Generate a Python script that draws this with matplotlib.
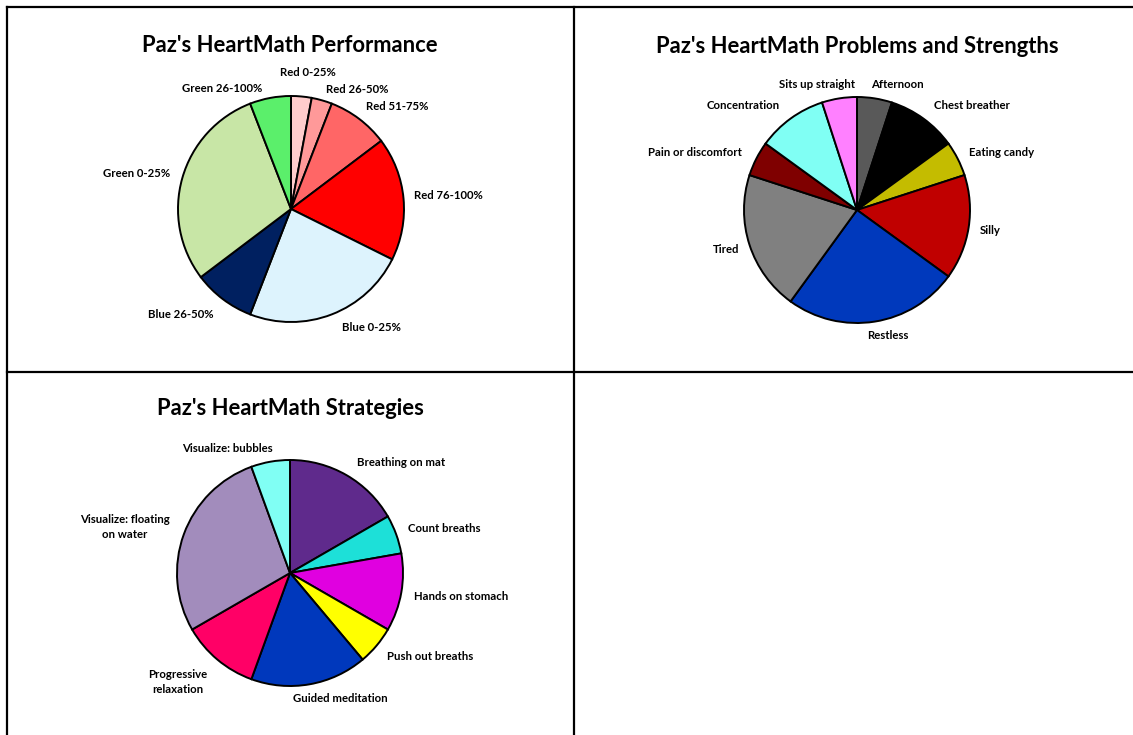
import matplotlib
matplotlib.use("Agg")
import matplotlib.pyplot as plt
from matplotlib.lines import Line2D

plt.rcParams['font.family'] = ['Lato', 'DejaVu Sans']

W, H = 1133, 735

# ---- Data ----
perf_labels = ["Red 0-25%", "Red 26-50%", "Red 51-75%", "Red 76-100%",
               "Blue 0-25%", "Blue 26-50%", "Green 0-25%", "Green 26-100%"]
perf_values = [1, 1, 3, 6, 8, 3, 10, 2]
perf_colors = ["#FFCCCC", "#FF9999", "#FF6666", "#FF0000",
               "#DDF3FD", "#002060", "#C8E6A6", "#5BEF6B"]

prob_labels = ["Afternoon", "Chest breather", "Eating candy", "Silly", "Restless",
               "Tired", "Pain or discomfort", "Concentration", "Sits up straight"]
prob_values = [1, 2, 1, 3, 5, 4, 1, 2, 1]
prob_colors = ["#595959", "#000000", "#C4BC00", "#C00000", "#0039BC",
               "#808080", "#7F0000", "#80FFF4", "#FF80FF"]

strat_labels = ["Breathing on mat", "Count breaths", "Hands on stomach", "Push out breaths",
                "Guided meditation", "Progressive\nrelaxation", "Visualize: floating\non water",
                "Visualize: bubbles"]
strat_values = [3, 1, 2, 1, 3, 2, 5, 1]
strat_colors = ["#5F2A8C", "#1DE0D8", "#E000E0", "#FFFF00",
                "#0038BC", "#FF0066", "#A28CBC", "#80FFF4"]

titles = ["Paz's HeartMath Performance", "Paz's HeartMath Problems and Strengths",
          "Paz's HeartMath Strategies"]

# ---- Layout (pixel positions) ----
charts = [
    dict(values=perf_values, colors=perf_colors, labels=perf_labels, title=titles[0],
         center=(291, 209), title_pos=(290, 45),
         label_pos=[(308, 72), (357, 89), (397, 106), (448, 195), (372, 327),
                    (181, 314), (137, 173), (222, 88)]),
    dict(values=prob_values, colors=prob_colors, labels=prob_labels, title=titles[1],
         center=(857, 210), title_pos=(857, 46),
         label_pos=[(897, 84), (972, 105), (1002, 152), (990, 230), (888, 335),
                    (726, 249), (695, 152), (743, 105), (817, 84)]),
    dict(values=strat_values, colors=strat_colors, labels=strat_labels, title=titles[2],
         center=(290, 573), title_pos=(290, 408),
         label_pos=[(401, 462), (444, 529), (461, 596), (430, 657), (340, 699),
                    (178, 682), (125, 527), (227, 448)]),
]
R = 113

fig = plt.figure(figsize=(W / 100, H / 100), dpi=100)
ax = fig.add_axes([0, 0, 1, 1])

for c in charts:
    cx, cy = c['center']
    ax.pie(c['values'], colors=c['colors'], startangle=90, counterclock=False,
           center=(cx, H - cy), radius=R,
           wedgeprops=dict(edgecolor='black', linewidth=1.4), frame=True)
    ax.text(c['title_pos'][0], H - c['title_pos'][1], c['title'], ha='center', va='center',
            fontsize=15.8, fontweight='bold', color='black')
    for lab, (lx, ly) in zip(c['labels'], c['label_pos']):
        ax.text(lx, H - ly, lab, ha='center', va='center', fontsize=8.2,
                fontweight='bold', color='black', linespacing=1.55)

ax.set_xlim(0, W)
ax.set_ylim(0, H)
ax.set_aspect('equal')
ax.axis('off')

# grid borders
for (x0, y0, x1, y1) in [(7, 7, W, 7), (7, 372, W, 372), (7, 7, 7, H), (574, 7, 574, H)]:
    ax.add_line(Line2D([x0, x1], [H - y0, H - y1], color='black', linewidth=1.6,
                       solid_capstyle='projecting'))

fig.savefig("out.png", dpi=100, facecolor='white')
